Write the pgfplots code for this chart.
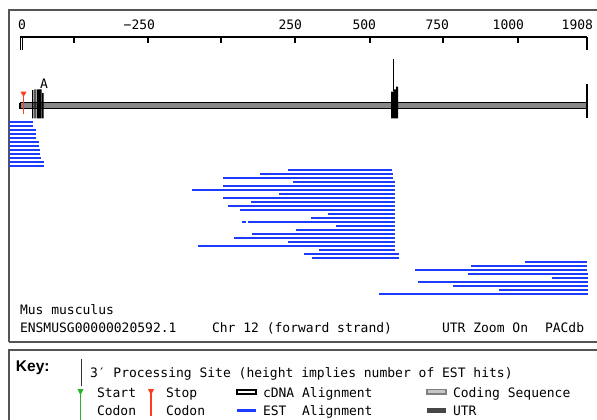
\documentclass[border=0pt]{standalone}
\usepackage{pgfplots}
\pgfplotsset{compat=1.18}
\usepackage{fontspec}
\setmainfont{DejaVu Sans Mono}
\newfontfamily\keyfont{Liberation Sans}

\definecolor{estblue}{RGB}{30,60,255}
\definecolor{genegray}{RGB}{135,135,135}
\definecolor{framegray}{RGB}{85,85,85}
\definecolor{stopred}{RGB}{255,60,30}
\definecolor{startgreen}{RGB}{40,180,40}
\definecolor{utrgray}{RGB}{70,70,70}

\newcommand{\txt}{\fontsize{13}{15}\selectfont}
\tikzset{lbl/.style={font=\txt, inner sep=0pt, outer sep=0pt}}

\begin{document}
\txt
\begin{tikzpicture}
\begin{axis}[
  width=597pt, height=420pt, scale only axis,
  xmin=0, xmax=597, ymin=0, ymax=420, y dir=reverse,
  hide axis, unbounded coords=jump,
]
% frames
\draw[framegray, line width=2pt] (axis cs:8.5,341.5) -- (axis cs:8.5,10) -- (axis cs:610,10);
\draw[framegray, line width=2pt] (axis cs:610,341.5) -- (axis cs:8.5,341.5);
\draw[framegray, line width=2pt] (axis cs:8.5,440) -- (axis cs:8.5,349.5) -- (axis cs:610,349.5);

% ruler
\addplot[black, line width=1.2pt] table[row sep=\\] {
x y\\ 20 37\\ 587 37\\ nan nan\\
20.5 37\\ 20.5 50\\ nan nan\\ 22.8 37\\ 22.8 50\\ nan nan\\
74 37\\ 74 43\\ nan nan\\ 148 37\\ 148 43\\ nan nan\\
221 37\\ 221 43\\ nan nan\\ 295 37\\ 295 43\\ nan nan\\
370 37\\ 370 43\\ nan nan\\ 443 37\\ 443 43\\ nan nan\\
518 37\\ 518 43\\ nan nan\\ 587 37\\ 587 50\\
};
\node[lbl, anchor=base west] at (axis cs:18,30) {0};
\node[lbl, anchor=base east] at (axis cs:155,30) {−250};
\node[lbl, anchor=base east] at (axis cs:302,30) {250};
\node[lbl, anchor=base east] at (axis cs:376,30) {500};
\node[lbl, anchor=base east] at (axis cs:449,30) {750};
\node[lbl, anchor=base east] at (axis cs:524,30) {1000};
\node[lbl, anchor=base east] at (axis cs:593,30) {1908};

% gene body
\addplot[fill=genegray, draw=black, line width=1.3pt] coordinates {
(20,102.5) (587,102.5) (587,108.2) (20,108.2) (20,102.5)};
% exon blocks near start
\addplot[fill=black, draw=none] coordinates {(32,90) (33.4,90) (33.4,118.3) (32,118.3) (32,90)};
\addplot[fill=black, draw=none] coordinates {(34.4,89.3) (35.6,89.3) (35.6,118.3) (34.4,118.3) (34.4,89.3)};
\addplot[fill=black, draw=none] coordinates {(36.7,89.3) (41.5,89.3) (41.5,118.3) (36.7,118.3) (36.7,89.3)};
\addplot[fill=black, draw=none] coordinates {(42.2,93) (43.6,93) (43.6,118.3) (42.2,118.3) (42.2,93)};
\node[lbl] at (axis cs:44,84) {A};
% exon block near 3' end, with processing site spike
\addplot[fill=black, draw=none] coordinates {
(391,91.7) (393.5,91.7) (393.5,89.3) (396,89.3) (396,86.7) (398,86.7) (398,118.3) (391,118.3) (391,91.7)};
\addplot[black, line width=1pt] coordinates {(393.3,59) (393.3,91)};
\addplot[black, line width=1.6pt] coordinates {(587,84) (587,118.3)};
% stop codon
\addplot[stopred, line width=1.4pt] coordinates {(23.5,93) (23.5,114)};
\addplot[fill=stopred, draw=none] coordinates {(20.5,91.7) (26.5,91.7) (23.5,97) (20.5,91.7)};

% EST alignments
\addplot[estblue, line width=2.5pt] table[row sep=\\] {
x y\\
9 122\\ 33 122\\ nan nan\\
9 126\\ 33 126\\ nan nan\\
9 130\\ 36 130\\ nan nan\\
9 134\\ 36 134\\ nan nan\\
9 138\\ 36 138\\ nan nan\\
9 142\\ 39 142\\ nan nan\\
9 146\\ 39 146\\ nan nan\\
9 150\\ 40 150\\ nan nan\\
9 154\\ 40 154\\ nan nan\\
9 158\\ 41 158\\ nan nan\\
9 162\\ 44 162\\ nan nan\\
9 166\\ 44 166\\ nan nan\\
288 170\\ 392 170\\ nan nan\\
260 174\\ 393 174\\ nan nan\\
223 178\\ 393 178\\ nan nan\\
293 182\\ 395 182\\ nan nan\\
223 186\\ 395 186\\ nan nan\\
192 190\\ 395 190\\ nan nan\\
279 194\\ 395 194\\ nan nan\\
223 198\\ 395 198\\ nan nan\\
251 202\\ 395 202\\ nan nan\\
228 206\\ 395 206\\ nan nan\\
240 210\\ 395 210\\ nan nan\\
328 214\\ 395 214\\ nan nan\\
311 218\\ 395 218\\ nan nan\\
241.5 222\\ 245.5 222\\ nan nan\\
248 222\\ 395 222\\ nan nan\\
336 226\\ 395 226\\ nan nan\\
296 230\\ 395 230\\ nan nan\\
252 234\\ 395 234\\ nan nan\\
233.5 238\\ 395 238\\ nan nan\\
288 242\\ 395 242\\ nan nan\\
197.5 246\\ 395 246\\ nan nan\\
319 250\\ 395 250\\ nan nan\\
304 254\\ 398.5 254\\ nan nan\\
312 258\\ 398.5 258\\ nan nan\\
525 262\\ 587 262\\ nan nan\\
471 266\\ 587 266\\ nan nan\\
415 270\\ 587 270\\ nan nan\\
468 274\\ 588 274\\ nan nan\\
552 278\\ 588 278\\ nan nan\\
418 282\\ 588 282\\ nan nan\\
453 286\\ 588 286\\ nan nan\\
499 290\\ 588 290\\ nan nan\\
379 294\\ 588 294\\
};

% captions
\node[lbl, anchor=base west] at (axis cs:20,314) {Mus musculus};
\node[lbl, anchor=base west] at (axis cs:20,332) {ENSMUSG00000020592.1};
\node[lbl, anchor=base west] at (axis cs:212,332) {Chr 12 (forward strand)};
\node[lbl, anchor=base west] at (axis cs:442,332) {UTR Zoom On};
\node[lbl, anchor=base west] at (axis cs:545,332) {PACdb};

% key
\node[lbl, anchor=base west, font=\keyfont\fontsize{15.5}{17}\selectfont\bfseries] at (axis cs:16,371) {Key:};
\draw[black!80, line width=1pt] (axis cs:81,359) -- (axis cs:81,386);
\node[lbl, anchor=base west] at (axis cs:90,377) {3′ Processing Site (height implies number of EST hits)};
% start / stop codon glyphs
\draw[startgreen, line width=1.4pt] (axis cs:80.5,390) -- (axis cs:80.5,420);
\fill[startgreen] (axis cs:77.5,389) -- (axis cs:83.5,389) -- (axis cs:80.5,395) -- cycle;
\node[lbl, anchor=base west] at (axis cs:97,397) {Start};
\node[lbl, anchor=base west] at (axis cs:97,415) {Codon};
\draw[stopred, line width=1.4pt] (axis cs:151,390) -- (axis cs:151,416);
\fill[stopred] (axis cs:148,389) -- (axis cs:154,389) -- (axis cs:151,395) -- cycle;
\node[lbl, anchor=base west] at (axis cs:166,397) {Stop};
\node[lbl, anchor=base west] at (axis cs:166,415) {Codon};
% alignment glyphs
\draw[black, line width=1.2pt, fill=white] (axis cs:237,390) rectangle (axis cs:256,394);
\node[lbl, anchor=base west] at (axis cs:263,397) {cDNA Alignment};
\draw[estblue, line width=2.5pt] (axis cs:237,410.5) -- (axis cs:256,410.5);
\node[lbl, anchor=base west] at (axis cs:263,415) {EST\ \ Alignment};
\draw[gray, line width=1.4pt, fill=gray!45] (axis cs:427,389.5) rectangle (axis cs:446,394);
\node[lbl, anchor=base west] at (axis cs:453,397) {Coding Sequence};
\fill[utrgray] (axis cs:427,407.5) rectangle (axis cs:446,413);
\node[lbl, anchor=base west] at (axis cs:453,415) {UTR};

\coordinate (BL) at (axis cs:0,420);
\coordinate (TR) at (axis cs:597,0);
\end{axis}
\pgfresetboundingbox
\useasboundingbox (BL) rectangle (TR);
\end{tikzpicture}
\end{document}
